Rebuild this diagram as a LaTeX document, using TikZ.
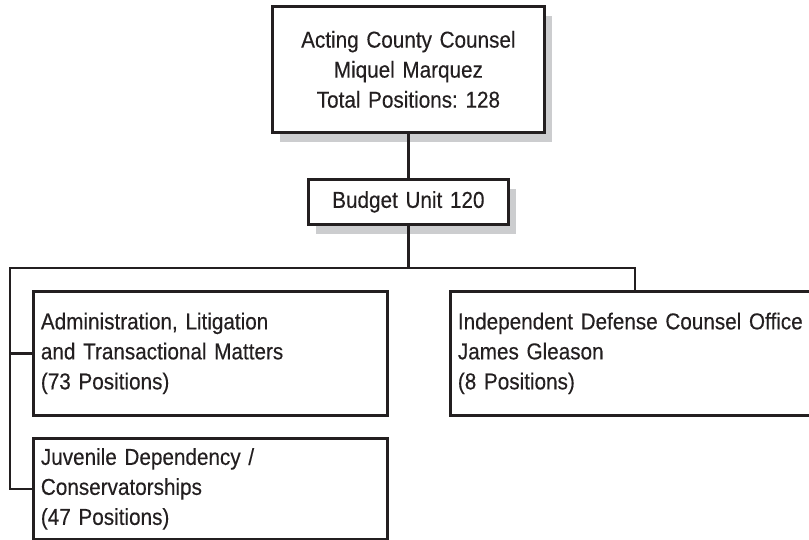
\documentclass[tikz,border=0pt]{standalone}
\usepackage{fontspec}
\setmainfont{Liberation Sans}[FakeStretch=0.9, FakeBold=0.3]
\frenchspacing
\usetikzlibrary{shadows}
\definecolor{ink}{RGB}{35,31,32}
\definecolor{shade}{RGB}{204,205,207}
\begin{document}
\begin{tikzpicture}[x=1pt,y=-1pt,
  box/.style={draw=ink, line width=2.8pt, fill=white, rectangle, inner sep=0pt,
    inner xsep=7.5pt, anchor=north west, font=\fontsize{23}{30}\selectfont, text=ink},
  leftbox/.style={box, align=left},
  centerbox/.style={box, align=center},
  shadowed/.style={drop shadow={shadow xshift=8pt, shadow yshift=-10pt, fill=shade, opacity=1}},
  conn/.style={draw=ink, line width=2.6pt},
]
\useasboundingbox (0,0) rectangle (809,540);

% head of office
\node[centerbox, shadowed, minimum width=272pt, minimum height=126pt, text width=257pt]
  (top) at (271,5) {Acting County Counsel\\Miquel Marquez\\Total Positions: 128};

% budget unit
\node[centerbox, shadowed, minimum width=200pt, minimum height=45pt, text width=185pt]
  (budget) at (307,178) {Budget Unit 120};

% divisions
\node[leftbox, minimum width=354pt, minimum height=124pt, text width=339pt]
  (admin) at (32,290) {Administration, Litigation\\and Transactional Matters\\(73 Positions)};
\node[leftbox, minimum width=363pt, minimum height=124pt, text width=348pt]
  (indep) at (449,290) {Independent Defense Counsel Office\\James Gleason\\(8 Positions)};
\node[leftbox, minimum width=354pt, minimum height=101pt, text width=339pt]
  (juv) at (32,437) {Juvenile Dependency /\\Conservatorships\\(47 Positions)};

% distribution bus
\coordinate (busL) at (10,268);
\coordinate (busR) at (635,268);

\draw[conn] (top.south) -- (budget.north);
\draw[conn] (budget.south) -- (budget.south |- busL);
\draw[conn] (busR |- indep.north) -- (busR) -- (busL) |- (juv.west);
\draw[conn] (busL |- admin.west) -- (admin.west);
\end{tikzpicture}
\end{document}
